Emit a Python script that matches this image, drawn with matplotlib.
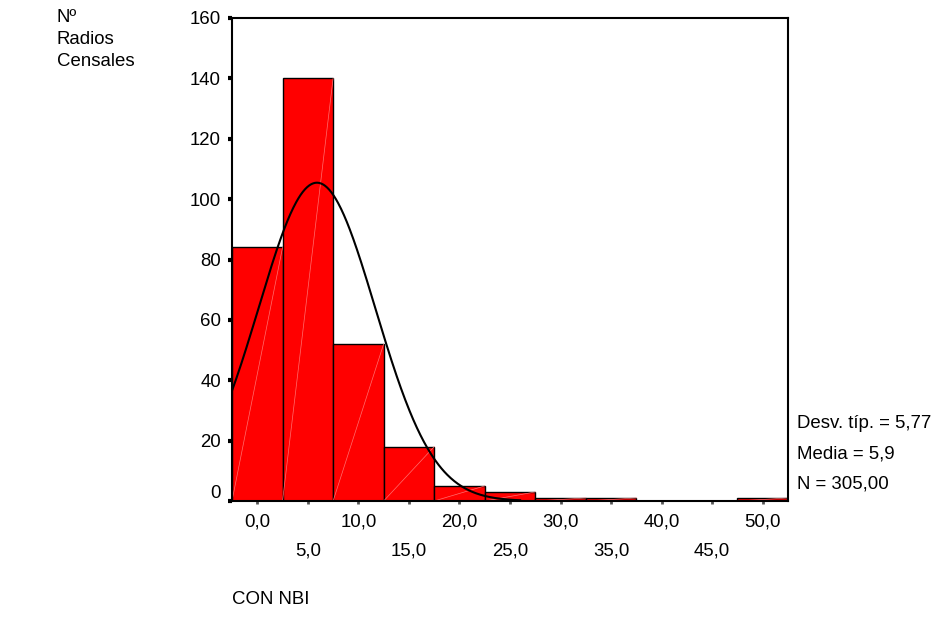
import numpy as np
import matplotlib
matplotlib.use("Agg")
import matplotlib.pyplot as plt
import matplotlib.transforms as mtransforms

# Data
bin_centers = [0, 5, 10, 15, 20, 25, 30, 35, 40, 45, 50]
counts = [84, 140, 52, 18, 5, 3, 1, 1, 0, 0, 1]
bin_width = 5
mean_val = 5.9
std_val = 5.77
n_val = 305
curve_end = 26.0
y_ticks = [0, 20, 40, 60, 80, 100, 120, 140, 160]
x_ticks_top = [0, 10, 20, 30, 40, 50]
x_ticks_bottom = [5, 15, 25, 35, 45]

plt.rcParams['font.family'] = ['Liberation Sans', 'DejaVu Sans']
FS = 13.4

fig = plt.figure(figsize=(9.37, 6.2), dpi=100)
ax = fig.add_axes([232/937, 1-501/620, (788-232)/937, (501-18)/620])

ax.bar(bin_centers, counts, width=bin_width, color='#ff0000', edgecolor='black',
       linewidth=1.0, zorder=2)
# faint diagonal artifacts inside bars
for c, h in zip(bin_centers, counts):
    if h > 0:
        ax.plot([c - bin_width/2, c + bin_width/2], [0, h], color='#ff7070',
                linewidth=0.5, zorder=2.5)

xs = np.linspace(-2.5, curve_end, 400)
ys = n_val * bin_width / (std_val * np.sqrt(2*np.pi)) * np.exp(-0.5*((xs-mean_val)/std_val)**2)
ax.plot(xs, ys, color='black', linewidth=1.5, zorder=3)

ax.set_xlim(-2.5, 52.5)
ax.set_ylim(0, 160)
ax.set_yticks(y_ticks)
ax.set_yticklabels([str(v) for v in y_ticks], fontsize=FS)
ax.tick_params(axis='y', direction='out', length=3, width=3, color='black', pad=5)
ax.set_xticks(x_ticks_top + x_ticks_bottom)
ax.set_xticklabels([f"{v},0" for v in x_ticks_top] + [f"\n{v},0" for v in x_ticks_bottom],
                   fontsize=FS, linespacing=1.95)
ax.tick_params(axis='x', direction='out', length=2, width=2, color='#555555', pad=7)
for s in ax.spines.values():
    s.set_linewidth(1.5)
    s.set_zorder(4)

# the "0" label sits a little above its tick in the reference
lbl0 = ax.get_yticklabels()[0]
lbl0.set_transform(lbl0.get_transform() + mtransforms.ScaledTranslation(0, 9/100, fig.dpi_scale_trans))

fig.text(57/937, 1-9/620, "Nº\nRadios\nCensales", fontsize=FS, va='top', ha='left',
         linespacing=1.38)
fig.text(232/937, 1-600/620, "CON NBI", fontsize=FS, va='center', ha='left')
stats = [f"Desv. típ. = {str(std_val).replace('.', ',')}",
         f"Media = {str(mean_val).replace('.', ',')}",
         f"N = {n_val},00"]
for i, s in enumerate(stats):
    fig.text(797/937, 1-(424+30*i)/620, s, fontsize=FS, va='center', ha='left')

fig.savefig("out.png", dpi=100)
